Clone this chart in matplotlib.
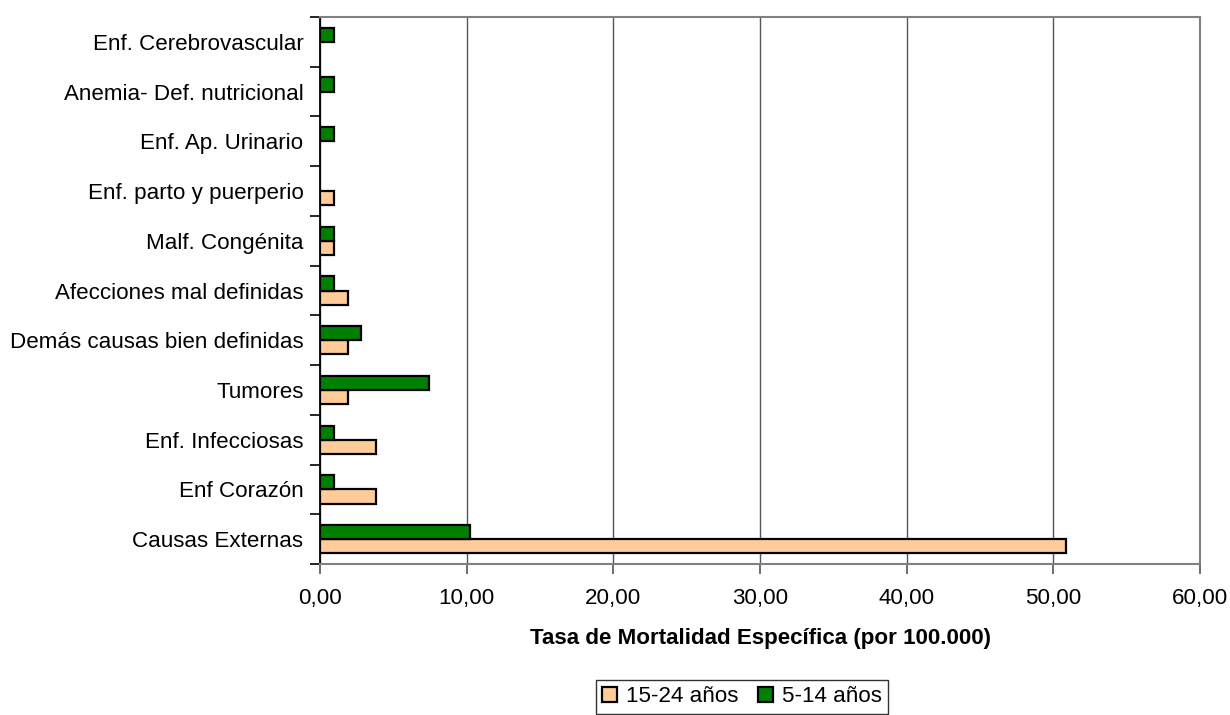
import numpy as np
import matplotlib.pyplot as plt
from matplotlib.ticker import FuncFormatter, FixedLocator

plt.rcParams['font.family'] = ['Liberation Sans', 'DejaVu Sans']

causas = ['Causas Externas', 'Enf Corazón', 'Enf. Infecciosas', 'Tumores',
          'Demás causas bien definidas', 'Afecciones mal definidas',
          'Malf. Congénita', 'Enf. parto y puerperio', 'Enf. Ap. Urinario',
          'Anemia- Def. nutricional', 'Enf. Cerebrovascular']
tasa_15_24 = [50.88, 3.84, 3.84, 1.92, 1.92, 1.92, 0.96, 0.96, 0.0, 0.0, 0.0]
tasa_5_14 = [10.23, 0.93, 0.93, 7.44, 2.79, 0.93, 0.93, 0.0, 0.93, 0.93, 0.93]

fs = 16.1

fig = plt.figure(figsize=(12.3, 7.15), dpi=100)
ax = fig.add_axes([0.2602, 0.2112, 0.7154, 0.765])

y = np.arange(len(causas))
h = 0.285
b1 = ax.barh(y - h / 2, tasa_15_24, height=h, color='#FFCC99', edgecolor='black',
             linewidth=1.6, label='15-24 años', zorder=3)
b2 = ax.barh(y + h / 2, tasa_5_14, height=h, color='#008000', edgecolor='black',
             linewidth=1.6, label='5-14 años', zorder=3)
# zero-valued bars shouldn't leave an outline stub
for bar in list(b1) + list(b2):
    if bar.get_width() == 0:
        bar.set_visible(False)

ax.set_xlim(0, 60)
ax.set_ylim(-0.5, len(causas) - 0.5)
ax.set_xticks(np.arange(0, 61, 10))
ax.xaxis.set_major_formatter(FuncFormatter(lambda v, p: f'{v:.2f}'.replace('.', ',')))
ax.set_yticks(y)
ax.set_yticklabels(causas)
ax.yaxis.set_minor_locator(FixedLocator(np.arange(-0.5, len(causas), 1.0)))
ax.tick_params(axis='y', which='major', length=0, pad=12, labelsize=fs)
ax.tick_params(axis='y', which='minor', length=7, width=1.2, color='black')
ax.tick_params(axis='x', length=7, width=1.2, color='#555555', labelsize=fs, pad=10)

ax.grid(axis='x', color='#555555', linewidth=1.0, zorder=0)
ax.spines['left'].set_color('black')
ax.spines['left'].set_linewidth(1.3)
for s in ['top', 'right', 'bottom']:
    ax.spines[s].set_color('#808080')
    ax.spines[s].set_linewidth(1.5)

ax.set_xlabel('Tasa de Mortalidad Específica (por 100.000)', fontsize=fs,
              fontweight='bold', labelpad=14)

leg = fig.legend(handles=[b1, b2], loc='center', bbox_to_anchor=(742 / 1230, 1 - 697 / 715),
                 ncol=2, frameon=True, fancybox=False, edgecolor='black', fontsize=fs,
                 handlelength=0.65, handleheight=0.65, handletextpad=0.4, columnspacing=0.9,
                 borderpad=0.3, borderaxespad=0)
leg.get_frame().set_linewidth(1.0)

fig.savefig('out.png', dpi=100, facecolor='white')
